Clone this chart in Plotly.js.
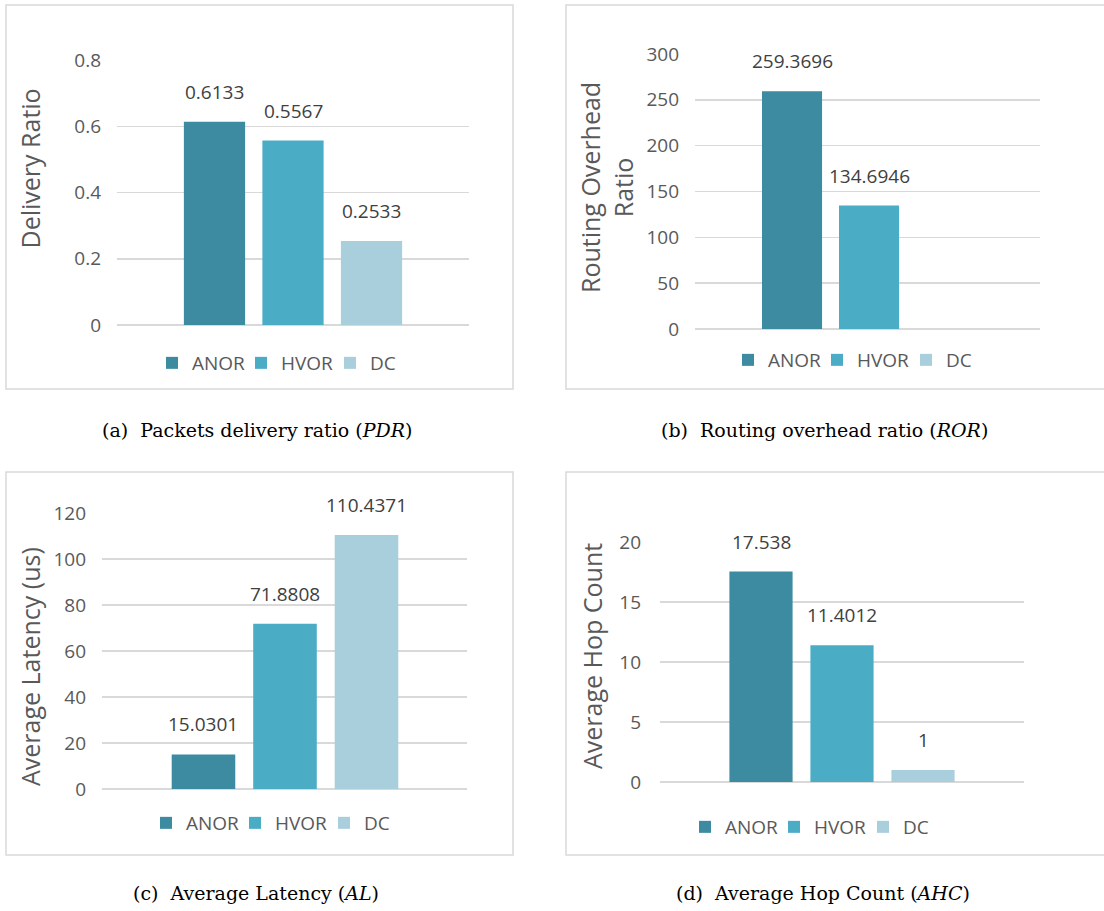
<!DOCTYPE html>
<html><head><meta charset="utf-8">
<script src="https://cdn.plot.ly/plotly-3.0.1.min.js"></script>
<style>html,body{margin:0;padding:0;background:#fff}#chart{width:1104px;height:911px}</style>
</head><body><div id="chart"></div>
<script>
// ---- data ----
const seriesNames = ['ANOR', 'HVOR', 'DC'];
const pdrValues = [0.6133, 0.5567, 0.2533];
const rorValues = [259.3696, 134.6946, null];
const alValues = [15.0301, 71.8808, 110.4371];
const ahcValues = [17.538, 11.4012, 1];
const yTitles = ['Delivery Ratio', 'Routing Overhead<br>Ratio', 'Average Latency (us)', 'Average Hop Count'];
const captions = [
  '(a)\u00a0\u00a0Packets delivery ratio (<i>PDR</i>)',
  '(b)\u00a0\u00a0Routing overhead ratio (<i>ROR</i>)',
  '(c)\u00a0\u00a0Average Latency (<i>AL</i>)',
  '(d)\u00a0\u00a0Average Hop Count (<i>AHC</i>)'
];
const yRanges = [[0, 0.8], [0, 300], [0, 120], [0, 20]];
const yDticks = [0.2, 50, 20, 5];

// ---- styling / layout ----
const colors = ['#3D8BA1', '#4BACC6', '#A9CEDC'];
const W = 1104, H = 911;
const px = x => x / W, py = y => 1 - y / H;
const panels = [
  {vals: pdrValues, plot: [117, 469, 60, 325], xr: [-1.242, 3.242], box: [6, 513, 5, 389], title: [30, 168.5], legend: [152, 363], cap: [257, 430], standoff: 15},
  {vals: rorValues, plot: [695, 1040, 54, 329], xr: [-1.26, 3.22], box: [566, 1110, 5, 389], title: [606.5, 187.5], legend: [728, 360], cap: [824, 430], standoff: 15},
  {vals: alValues, plot: [102, 467, 513, 789], xr: [-1.245, 3.233], box: [6, 513, 472, 855], title: [30, 667], legend: [146, 823], cap: [256, 893], standoff: 15},
  {vals: ahcValues, plot: [660, 1024, 542, 782], xr: [-1.247, 3.247], box: [566, 1110, 472, 855], title: [592, 656], legend: [685, 827], cap: [823, 893], standoff: 18}
];

const traces = [];
const layout = {
  width: W, height: H,
  margin: {l: 0, r: 0, t: 0, b: 0},
  paper_bgcolor: '#fff', plot_bgcolor: 'rgba(0,0,0,0)',
  font: {family: '"Open Sans", sans-serif', color: '#595959'},
  barmode: 'overlay', bargap: 0.22,
  showlegend: true,
  annotations: [], shapes: []
};

panels.forEach((p, i) => {
  const n = i === 0 ? '' : String(i + 1);
  const legendId = 'legend' + n;
  seriesNames.forEach((name, j) => {
    traces.push({
      type: 'bar', name: name, x: [name], y: [p.vals[j]],
      xaxis: 'x' + n, yaxis: 'y' + n, legend: legendId,
      marker: {color: colors[j], line: {width: 0}},
      hoverinfo: 'skip', showlegend: true
    });
    if (p.vals[j] !== null) {
      layout.annotations.push({
        xref: 'x' + n, yref: 'y' + n, x: name, y: p.vals[j],
        text: String(p.vals[j]), showarrow: false,
        xanchor: 'center', yanchor: 'middle', yshift: 30,
        font: {size: 19, color: '#404040'}
      });
    }
  });
  layout['xaxis' + n] = {
    domain: [px(p.plot[0]), px(p.plot[1])], range: p.xr, type: 'category',
    categoryorder: 'array', categoryarray: seriesNames,
    showticklabels: false, showgrid: false, zeroline: false, showline: false,
    ticks: '', fixedrange: true, anchor: 'y' + n
  };
  layout['yaxis' + n] = {
    domain: [py(p.plot[3]), py(p.plot[2])], range: yRanges[i], dtick: yDticks[i], tick0: 0,
    showgrid: true, gridcolor: '#D9D9D9', gridwidth: 1.5,
    zeroline: true, zerolinecolor: '#D9D9D9', zerolinewidth: 1.5,
    showline: false, ticks: '', ticklabelstandoff: p.standoff,
    tickfont: {size: 19, color: '#595959'}, fixedrange: true, anchor: 'x' + n
  };
  layout[legendId] = {
    orientation: 'h', x: px(p.legend[0]), y: py(p.legend[1]),
    xanchor: 'left', yanchor: 'middle', traceorder: 'normal',
    font: {size: 19, color: '#595959'}, bgcolor: 'rgba(0,0,0,0)',
    entrywidth: 44, itemclick: false, itemdoubleclick: false
  };
  layout.annotations.push({
    xref: 'paper', yref: 'paper', x: px(p.title[0]), y: py(p.title[1]),
    xanchor: 'center', yanchor: 'middle', textangle: -90, showarrow: false,
    text: yTitles[i], font: {size: 25, color: '#595959'}
  });
  layout.annotations.push({
    xref: 'paper', yref: 'paper', x: px(p.cap[0]), y: py(p.cap[1]),
    xanchor: 'center', yanchor: 'middle', showarrow: false,
    text: captions[i], font: {family: '"DejaVu Serif", serif', size: 19, color: '#000'}
  });
  layout.shapes.push({
    type: 'rect', xref: 'paper', yref: 'paper',
    x0: px(p.box[0]), x1: px(p.box[1]), y0: py(p.box[3]), y1: py(p.box[2]),
    line: {color: '#D9D9D9', width: 1.5}, fillcolor: 'rgba(0,0,0,0)', layer: 'below'
  });
});

Plotly.newPlot('chart', traces, layout, {staticPlot: true, displayModeBar: false});
</script>
</body></html>
